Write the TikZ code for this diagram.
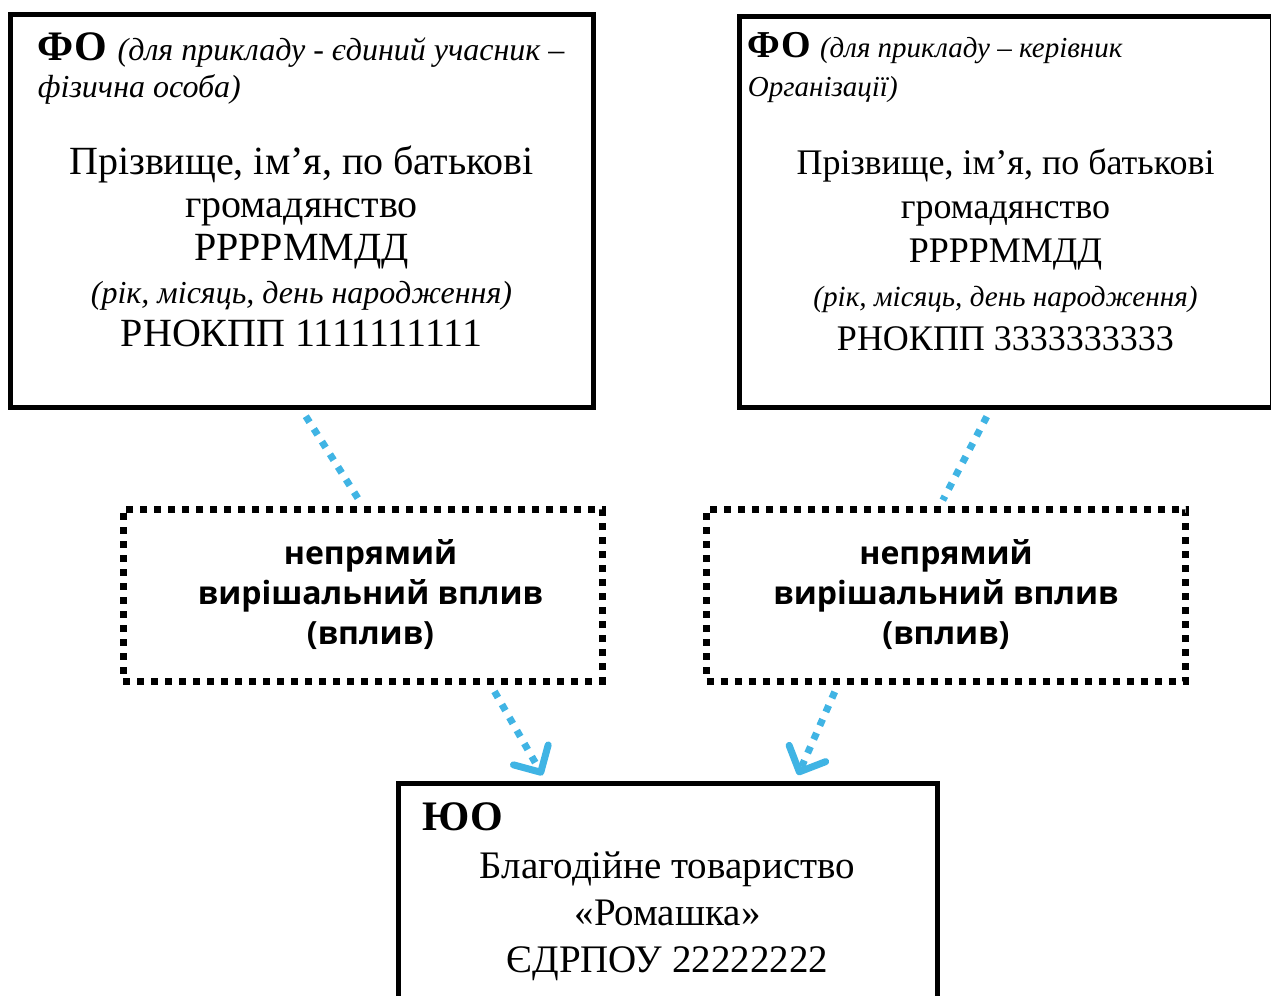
\documentclass[tikz,border=0pt]{standalone}
\usepackage{fontspec}
\setmainfont{Liberation Serif}
\newfontfamily\labelfont{Open Sans}
\usetikzlibrary{positioning,arrows.meta,calc}
\definecolor{linkblue}{RGB}{64,180,228}

\begin{document}
\begin{tikzpicture}[x=0.5pt,y=-0.5pt,
    person box/.style={draw,line width=2.5pt,inner sep=0pt},
    influence box/.style={draw,line width=3.5pt,dash pattern=on 3.5pt off 3.5pt,
        minimum width=239.5pt,minimum height=86pt,align=center,
        font=\labelfont\bfseries\fontsize{16pt}{20pt}\selectfont},
    header/.style={inner sep=0pt,align=left,font=\itshape\fontsize{16pt}{18.5pt}\selectfont},
    body/.style={inner sep=0pt,align=center,font=\fontsize{20pt}{21.5pt}\selectfont},
    link/.style={draw=linkblue,line width=3.5pt,dash pattern=on 3.5pt off 4pt,
        shorten <=4pt,shorten >=3pt},
    link tip/.style={-{Straight Barb[round,length=10pt,width=20pt]}}]

    \useasboundingbox (0,0) rectangle (1271,996);
    \clip (0,0) rectangle (1271,996);

    % persons and the legal entity
    \node[person box,minimum width=291.5pt,minimum height=196.5pt] (fo1) at (301.5,210.5) {};
    \node[person box,minimum width=266.5pt,minimum height=195.5pt] (fo2) at (1005.5,211.5) {};
    \node[person box,minimum width=269.5pt,minimum height=108.5pt] (yuo) at (667.5,891.5) {};

    \node[header,anchor=north west] (fo1 head) [below right=10.5pt and 15pt of fo1.north west]
        {\upshape\bfseries\fontsize{21pt}{21pt}\selectfont ФО \mdseries\itshape\fontsize{16pt}{18.5pt}\selectfont(для прикладу - єдиний учасник –\\фізична особа)};
    \node[body,anchor=north] (fo1 data) [below=67pt of fo1.north]
        {Прізвище, ім’я, по батькові\\громадянство\\РРРРММДД\\{\itshape\fontsize{16pt}{18pt}\selectfont(рік, місяць, день народження)}\\РНОКПП 1111111111};

    \node[header,anchor=north west,font=\itshape\fontsize{14.5pt}{19.5pt}\selectfont] (fo2 head)
        [below right=9pt and 5.5pt of fo2.north west]
        {\upshape\bfseries\fontsize{19pt}{19pt}\selectfont ФО \mdseries\itshape\fontsize{14.5pt}{19.5pt}\selectfont(для прикладу – керівник\\Організації)};
    \node[body,anchor=north,font=\fontsize{18pt}{22pt}\selectfont] (fo2 data) [below=67.5pt of fo2.north]
        {Прізвище, ім’я, по батькові\\громадянство\\РРРРММДД\\{\itshape\fontsize{14.6pt}{18pt}\selectfont(рік, місяць, день народження)}\\РНОКПП 3333333333};

    \node[inner sep=0pt,anchor=north west,font=\bfseries\fontsize{21pt}{21pt}\selectfont] (yuo head)
        [below right=11pt and 13.5pt of yuo.north west] {ЮО};
    \node[body,anchor=north,font=\fontsize{19.5pt}{23.5pt}\selectfont] (yuo data) [below=35.5pt of yuo.north]
        {Благодійне товариство\\«Ромашка»\\ЄДРПОУ 22222222};

    % influence
    \node[influence box] (vp1) at (362.5,595) {\hspace*{8pt}непрямий\\\hspace*{8pt}вирішальний вплив\\\hspace*{8pt}(вплив)};
    \node[influence box] (vp2) at (946,595) {непрямий\\вирішальний вплив\\(вплив)};

    \path[link] (fo1.south) -- (vp1.north);
    \path[link,link tip] ($(vp1.south)+(128,0)$) -- ($(yuo.north)+(-122,0)$);
    \path[link] ($(fo2.south)+(-15,0)$) -- ($(vp2.north)+(-6,0)$);
    \path[link,link tip] ($(vp2.south)+(-108,0)$) -- ($(yuo.north)+(128,0)$);
\end{tikzpicture}
\end{document}
